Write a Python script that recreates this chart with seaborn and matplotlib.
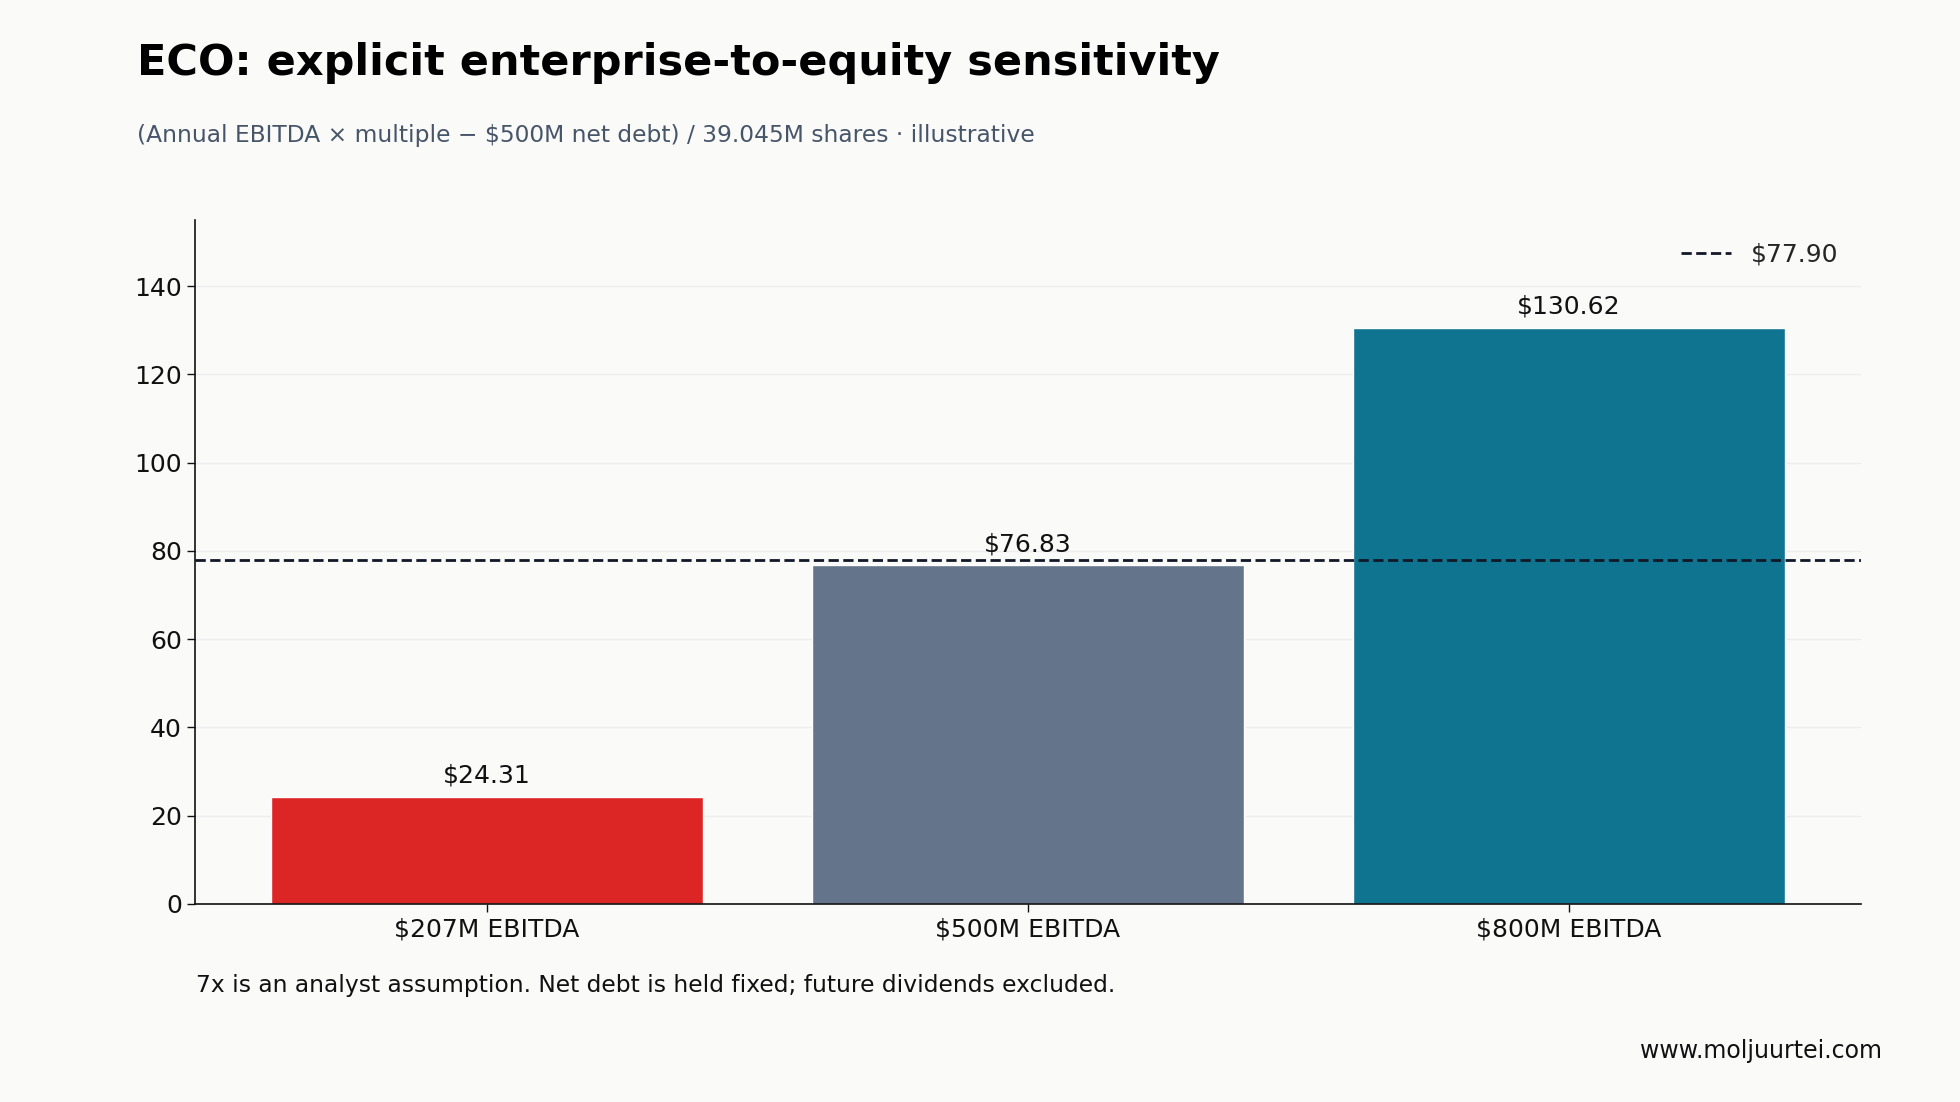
import pandas as pd
import matplotlib
matplotlib.use("Agg")
import matplotlib.pyplot as plt
import seaborn as sns

# Values
scenarios = ["$207M EBITDA", "$500M EBITDA", "$800M EBITDA"]
per_share = [24.31, 76.83, 130.62]
bar_colors = ["#DC2626", "#64748B", "#0F7490"]
ref_price = 77.90

df = pd.DataFrame({"scenario": scenarios, "value": per_share})

sns.set_theme(style="white")
plt.rcParams["font.family"] = ["DejaVu Sans"]
bg = "#FAFAF9"

fig = plt.figure(figsize=(19.6, 11.02), dpi=100, facecolor=bg)
ax = fig.add_axes([0.0995, 0.1797, 0.85, 0.6207])
ax.set_facecolor(bg)

sns.barplot(data=df, x="scenario", y="value", hue="scenario",
            palette=bar_colors, legend=False, width=0.8, saturation=1, ax=ax)

for i, v in enumerate(per_share):
    ax.text(i, v + 2.0, f"${v:.2f}", ha="center", va="bottom", fontsize=18, color="#111111")

ax.axhline(ref_price, color="#111827", linestyle="--", linewidth=2, label=f"${ref_price:.2f}")
ax.legend(loc="upper right", frameon=False, fontsize=18, handlelength=2.0)

ax.set_xlim(-0.54, 2.54)
ax.set_ylim(0, 155)
ax.set_yticks(range(0, 141, 20))
ax.yaxis.grid(True, color="#EEEEEE", linewidth=1)
ax.set_axisbelow(True)
ax.set_xlabel("")
ax.set_ylabel("")
ax.tick_params(axis="both", labelsize=18, colors="#111111", length=6, width=1, bottom=True, left=True)
sns.despine(ax=ax)
for s in ["left", "bottom"]:
    ax.spines[s].set_color("#111111")
    ax.spines[s].set_linewidth(1.2)

fig.text(0.0699, 0.943, "ECO: explicit enterprise-to-equity sensitivity",
         fontsize=31, fontweight="bold", color="#000000", va="center")
fig.text(0.0699, 0.877, "(Annual EBITDA \u00d7 multiple \u2212 $500M net debt) / 39.045M shares \u00b7 illustrative",
         fontsize=16.8, color="#475569", va="center")
fig.text(0.1, 0.106, "7x is an analyst assumption. Net debt is held fixed; future dividends excluded.",
         fontsize=16.8, color="#111111", va="center")
fig.text(0.96, 0.046, "www.moljuurtei.com", fontsize=17, color="#111111", ha="right", va="center")

fig.savefig("out.png", dpi=100, facecolor=bg)
